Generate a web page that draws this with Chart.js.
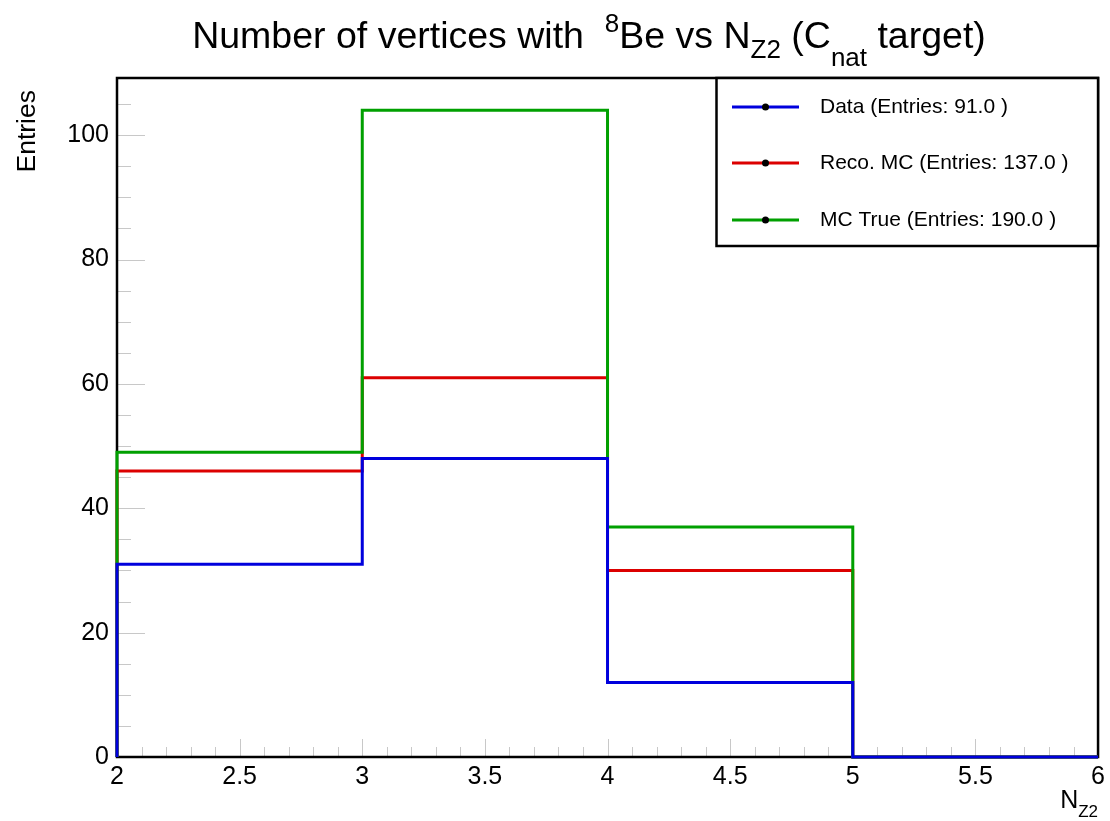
<!DOCTYPE html>
<html>
<head>
<meta charset="utf-8">
<script src="https://cdn.jsdelivr.net/npm/chart.js@4.4.0/dist/chart.umd.min.js"></script>
<style>
  body { margin: 0; background: #fff; }
  canvas { display: block; }
</style>
</head>
<body>
<canvas id="nz2Chart" width="1110" height="821"></canvas>
<script>
// bin edges in N_Z2 and entries per bin
const binEdges = [2, 3, 4, 5, 6];
const dataCounts = [31, 48, 12, 0];
const recoCounts = [46, 61, 30, 0];
const trueCounts = [49, 104, 37, 0];

const seriesLabels = ['Data (Entries: 91.0 )', 'Reco. MC (Entries: 137.0 )', 'MC True (Entries: 190.0 )'];
const seriesColors = ['#0000dd', '#dc0000', '#00a000'];

const xTickValues = [2, 2.5, 3, 3.5, 4, 4.5, 5, 5.5, 6];
const yTickValues = [0, 20, 40, 60, 80, 100];
const yMax = 109.2;

const FONT = "'Liberation Sans', Arial, Helvetica, sans-serif";

// histogram outline: up the left edge, across each bin, down at the end
function histOutline(counts) {
  const pts = [{ x: binEdges[0], y: 0 }];
  counts.forEach((c, i) => {
    pts.push({ x: binEdges[i], y: c });
    pts.push({ x: binEdges[i + 1], y: c });
  });
  return pts;
}

function histDataset(i, counts, order) {
  return {
    label: seriesLabels[i],
    data: histOutline(counts),
    borderColor: seriesColors[i],
    backgroundColor: seriesColors[i],
    borderWidth: 3,
    pointRadius: 0,
    tension: 0,
    fill: false,
    clip: 6,
    order: order
  };
}

// text with ROOT-style sub/superscripts
function richWidth(ctx, parts) {
  let w = 0;
  parts.forEach(p => {
    ctx.font = p.size + 'px ' + FONT;
    w += ctx.measureText(p.text).width;
  });
  return w;
}
function drawRich(ctx, parts, x, baseline) {
  ctx.textAlign = 'left';
  ctx.textBaseline = 'alphabetic';
  parts.forEach(p => {
    ctx.font = p.size + 'px ' + FONT;
    ctx.fillText(p.text, x, baseline + (p.dy || 0));
    x += ctx.measureText(p.text).width;
  });
}

const framePlugin = {
  id: 'frame',
  beforeDatasetsDraw(chart) {
    const { ctx, chartArea: a, scales } = chart;
    const xs = scales.x, ys = scales.y;
    ctx.save();
    ctx.strokeStyle = '#c8c8c8';
    ctx.lineWidth = 1;
    ctx.beginPath();
    // y ticks: major every 20, minor every 5
    for (let v = 0; v <= yMax; v += 5) {
      const py = Math.round(ys.getPixelForValue(v)) + 0.5;
      const len = v % 20 === 0 ? 28 : 14;
      ctx.moveTo(a.left, py);
      ctx.lineTo(a.left + len, py);
    }
    // x ticks: major every 0.5, minor every 0.1
    for (let k = 0; k <= 40; k++) {
      const v = 2 + k * 0.1;
      const px = Math.round(xs.getPixelForValue(v)) + 0.5;
      const len = k % 5 === 0 ? 18 : 10;
      ctx.moveTo(px, a.bottom);
      ctx.lineTo(px, a.bottom - len);
    }
    ctx.stroke();
    ctx.strokeStyle = '#000';
    ctx.lineWidth = 2.5;
    ctx.strokeRect(a.left, a.top, a.right - a.left, a.bottom - a.top);
    ctx.restore();
  },
  afterDraw(chart) {
    const { ctx, chartArea: a } = chart;
    ctx.save();
    ctx.fillStyle = '#000';

    // title
    const title = [
      { text: 'Number of vertices with  ', size: 37.5 },
      { text: '8', size: 26, dy: -16 },
      { text: 'Be vs N', size: 37.5 },
      { text: 'Z2', size: 26, dy: 10 },
      { text: ' (C', size: 37.5 },
      { text: 'nat', size: 26, dy: 18 },
      { text: ' target)', size: 37.5 }
    ];
    const tw = richWidth(ctx, title);
    drawRich(ctx, title, 589 - tw / 2, 48);

    // y axis title
    ctx.save();
    ctx.translate(28, 90);
    ctx.rotate(-Math.PI / 2);
    ctx.font = '26.5px ' + FONT;
    ctx.textAlign = 'right';
    ctx.textBaseline = 'middle';
    ctx.fillText('Entries', 0, 0);
    ctx.restore();

    // x axis title
    const xt = [{ text: 'N', size: 25 }, { text: 'Z2', size: 17, dy: 9 }];
    drawRich(ctx, xt, a.right - richWidth(ctx, xt), 808);

    // legend box
    const lx = 716.5, ly = a.top, lw = a.right - lx, lh = 168;
    ctx.fillStyle = '#fff';
    ctx.fillRect(lx, ly, lw, lh);
    ctx.strokeStyle = '#000';
    ctx.lineWidth = 2.5;
    ctx.strokeRect(lx, ly, lw, lh);
    const rows = [107, 163, 220];
    chart.data.datasets.forEach((ds, i) => {
      const y = rows[i];
      ctx.strokeStyle = ds.borderColor;
      ctx.lineWidth = 3;
      ctx.beginPath();
      ctx.moveTo(732, y);
      ctx.lineTo(799, y);
      ctx.stroke();
      ctx.fillStyle = '#000';
      ctx.beginPath();
      ctx.arc(765.5, y, 3.5, 0, Math.PI * 2);
      ctx.fill();
      ctx.font = '21px ' + FONT;
      ctx.textAlign = 'left';
      ctx.textBaseline = 'middle';
      ctx.fillText(ds.label, 820, y);
    });
    ctx.restore();
  }
};

const ctx = document.getElementById('nz2Chart').getContext('2d');

const nz2Chart = new Chart(ctx, {
  type: 'line',
  data: {
    datasets: [
      histDataset(0, dataCounts, 0),
      histDataset(1, recoCounts, 2),
      histDataset(2, trueCounts, 1)
    ]
  },
  options: {
    responsive: false,
    animation: false,
    layout: { padding: { top: 78, right: 10, left: 0, bottom: 0 } },
    plugins: {
      legend: { display: false },
      title: { display: false },
      tooltip: { enabled: false }
    },
    scales: {
      x: {
        type: 'linear',
        min: 2,
        max: 6,
        afterBuildTicks: s => { s.ticks = xTickValues.map(v => ({ value: v })); },
        afterFit: s => { s.height = 64; },
        grid: { display: false, drawTicks: false },
        border: { display: false },
        ticks: {
          color: '#000',
          padding: 5,
          maxRotation: 0,
          autoSkip: false,
          font: { family: FONT, size: 25 },
          callback: v => String(v)
        }
      },
      y: {
        min: 0,
        max: yMax,
        afterBuildTicks: s => { s.ticks = yTickValues.map(v => ({ value: v })); },
        afterFit: s => { s.width = 117; },
        grid: { display: false, drawTicks: false },
        border: { display: false },
        ticks: {
          color: '#000',
          padding: 8,
          font: { family: FONT, size: 25 },
          callback: v => String(v)
        }
      }
    }
  },
  plugins: [framePlugin]
});
</script>
</body>
</html>
